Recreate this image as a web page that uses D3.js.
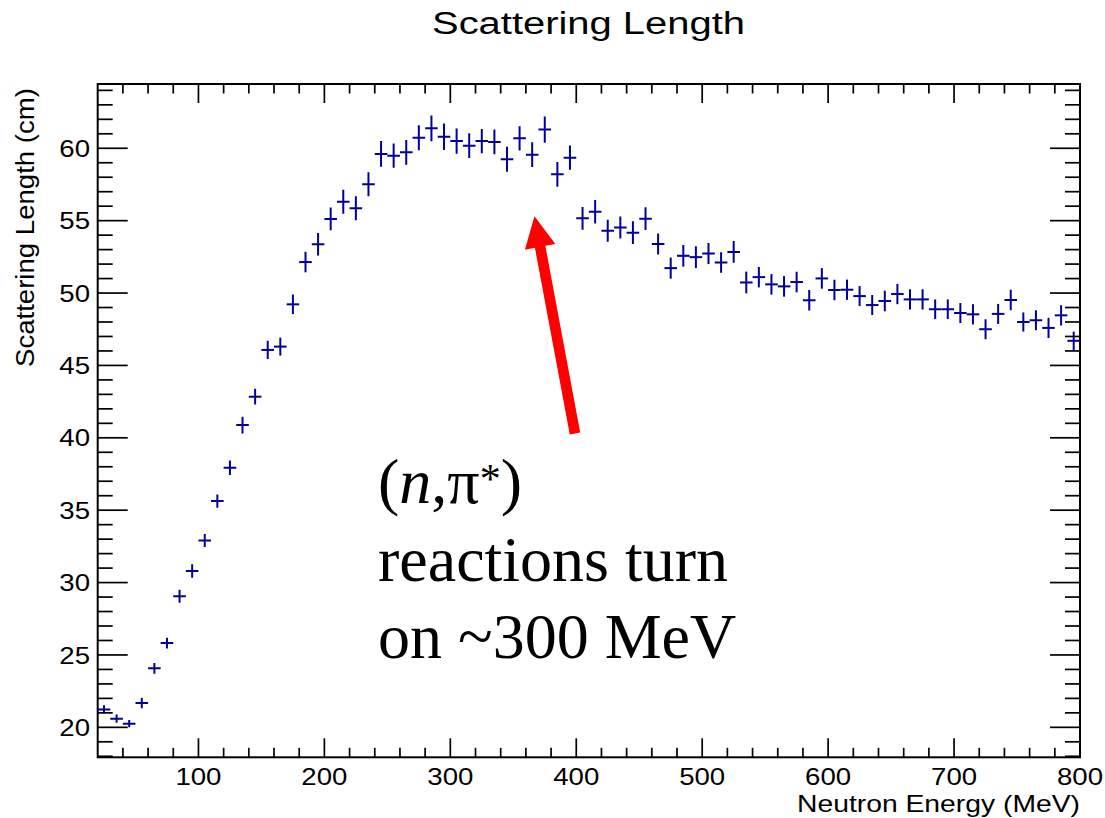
<!doctype html>
<html>
<head>
<meta charset="utf-8">
<style>
  body { margin: 0; background: #fff; }
  text { font-family: "Liberation Sans", Arial, Helvetica, sans-serif; fill: #000; }
  .note { font-family: "Liberation Serif", "Times New Roman", serif; }
</style>
<script src="https://d3js.org/d3.v7.min.js"></script>
</head>
<body>
<svg width="1105" height="818"></svg>
<script>
// bin centres (MeV), scattering length (cm) and its error
var energy = [25, 35, 45, 55, 65, 75, 85, 95, 105, 115, 125, 135, 145, 155, 165, 175,
  185, 195, 205, 215, 225, 235, 245, 255, 265, 275, 285, 295, 305, 315, 325, 335, 345,
  355, 365, 375, 385, 395, 405, 415, 425, 435, 445, 455, 465, 475, 485, 495, 505, 515,
  525, 535, 545, 555, 565, 575, 585, 595, 605, 615, 625, 635, 645, 655, 665, 675, 685,
  695, 705, 715, 725, 735, 745, 755, 765, 775, 785, 795];
var scatLen = [21.24, 20.6, 20.25, 21.68, 24.08, 25.82, 29.05, 30.8, 32.9, 35.63, 37.93,
  40.88, 42.84, 46.07, 46.3, 49.22, 52.14, 53.37, 55.12, 56.31, 55.85, 57.51, 59.61,
  59.49, 59.72, 60.73, 61.38, 60.8, 60.5, 60.18, 60.5, 60.44, 59.24, 60.69, 59.56, 61.29,
  58.2, 59.35, 55.16, 55.62, 54.31, 54.52, 54.17, 55.14, 53.39, 51.72, 52.57, 52.48,
  52.73, 52.11, 52.84, 50.73, 51.10, 50.60, 50.46, 50.76, 49.50, 51.01, 50.21, 50.23,
  49.79, 49.17, 49.45, 49.93, 49.56, 49.56, 48.88, 48.88, 48.62, 48.53, 47.50, 48.56,
  49.52, 48.00, 48.12, 47.59, 48.46, 46.70];
var scatErr = [0.28, 0.28, 0.25, 0.37, 0.37, 0.37, 0.45, 0.46, 0.45, 0.46, 0.5,
  0.58, 0.54, 0.63, 0.62, 0.68, 0.71, 0.78, 0.79, 0.83, 0.83, 0.83, 0.89, 0.84, 0.86,
  0.86, 0.89, 0.92, 0.87, 0.86, 0.84, 0.86, 0.86, 0.84, 0.85, 0.9, 0.85, 0.84,
  0.79, 0.81, 0.76, 0.76, 0.79, 0.78, 0.73, 0.73, 0.75, 0.76, 0.73, 0.71, 0.75, 0.75,
  0.71, 0.71, 0.71, 0.71, 0.71, 0.71, 0.71, 0.70, 0.69, 0.69, 0.71, 0.70, 0.70, 0.70,
  0.68, 0.68, 0.69, 0.70, 0.69, 0.69, 0.71, 0.66, 0.69, 0.70, 0.70, 0.64];
var binHalf = 5;

var xTicks = [100, 200, 300, 400, 500, 600, 700, 800];
var yTicks = [20, 25, 30, 35, 40, 45, 50, 55, 60];
var xRange = [20, 800];
var yRange = [17.93, 64.44];

// annotation arrow, in data units (tail -> tip)
var arrowTail = [399, 40.3];
var arrowTip = [366.8, 55.3];

var svg = d3.select("svg");
svg.append("rect").attr("width", 1105).attr("height", 818).attr("fill", "#fff");

var padL = 97.7, padR = 1080, padT = 84, padB = 757.3;

var x = d3.scaleLinear().domain(xRange).range([padL, padR]);
var y = d3.scaleLinear().domain(yRange).range([padB, padT]);

// ticks (ROOT style, pointing inwards on all four sides)
function tickRange(a, b, step) {
  var out = [];
  for (var v = Math.ceil(a / step) * step; v <= b + 1e-9; v += step) out.push(v);
  return out;
}
var axes = svg.append("g").attr("stroke", "#000").attr("stroke-width", 1.7);
tickRange(xRange[0], xRange[1], 20).forEach(function(v) {
  if (v <= xRange[0] || v >= xRange[1]) return;
  var len = v % 100 === 0 ? 19 : 9.5;
  axes.append("line").attr("x1", x(v)).attr("x2", x(v)).attr("y1", padB).attr("y2", padB - len);
  axes.append("line").attr("x1", x(v)).attr("x2", x(v)).attr("y1", padT).attr("y2", padT + len);
});
tickRange(yRange[0], yRange[1], 1).forEach(function(v) {
  var len = v % 5 === 0 ? 30 : 15;
  axes.append("line").attr("y1", y(v)).attr("y2", y(v)).attr("x1", padL).attr("x2", padL + len);
  axes.append("line").attr("y1", y(v)).attr("y2", y(v)).attr("x1", padR).attr("x2", padR - len);
});

svg.append("rect")
  .attr("x", padL).attr("y", padT)
  .attr("width", padR - padL).attr("height", padB - padT)
  .attr("fill", "none").attr("stroke", "#000").attr("stroke-width", 2);

// tick labels
svg.selectAll(".xlab").data(xTicks).enter().append("text")
  .attr("class", "xlab")
  .attr("transform", function(d) { return "translate(" + x(d) + ",785) scale(1.15,1)"; })
  .attr("text-anchor", "middle").attr("font-size", 24)
  .text(function(d) { return d; });

svg.selectAll(".ylab").data(yTicks).enter().append("text")
  .attr("class", "ylab")
  .attr("transform", function(d) { return "translate(90," + (y(d) + 8.6) + ") scale(1.15,1)"; })
  .attr("text-anchor", "end").attr("font-size", 24)
  .text(function(d) { return d; });

// titles
svg.append("text")
  .attr("x", 432).attr("y", 34)
  .attr("font-size", 31)
  .attr("textLength", 313).attr("lengthAdjust", "spacingAndGlyphs")
  .text("Scattering Length");

svg.append("text")
  .attr("x", 797).attr("y", 812)
  .attr("font-size", 24)
  .attr("textLength", 283).attr("lengthAdjust", "spacingAndGlyphs")
  .text("Neutron Energy (MeV)");

svg.append("text")
  .attr("transform", "translate(34,367) rotate(-90)")
  .attr("font-size", 25.5)
  .attr("textLength", 279).attr("lengthAdjust", "spacingAndGlyphs")
  .text("Scattering Length (cm)");

// data points with error bars
svg.append("clipPath").attr("id", "plot")
  .append("rect").attr("x", padL).attr("y", padT).attr("width", padR - padL).attr("height", padB - padT);

var pts = svg.append("g").attr("clip-path", "url(#plot)")
  .attr("stroke", "#000099").attr("stroke-width", 2);
energy.forEach(function(e, i) {
  var g = pts.append("g");
  g.append("line")
    .attr("x1", x(e - binHalf)).attr("x2", x(e + binHalf))
    .attr("y1", y(scatLen[i])).attr("y2", y(scatLen[i]));
  g.append("line")
    .attr("x1", x(e)).attr("x2", x(e))
    .attr("y1", y(scatLen[i] - scatErr[i])).attr("y2", y(scatLen[i] + scatErr[i]));
});

// red arrow
var tx = x(arrowTail[0]), ty = y(arrowTail[1]);
var hx = x(arrowTip[0]), hy = y(arrowTip[1]);
var dx = hx - tx, dy = hy - ty, L = Math.sqrt(dx * dx + dy * dy);
var ux = dx / L, uy = dy / L, nx = -uy, ny = ux;
var shaftW = 5.3, headW = 15.5, headL = 31;
var bx = hx - ux * headL, by = hy - uy * headL;
var poly = [
  [tx + nx * shaftW, ty + ny * shaftW],
  [bx + nx * shaftW, by + ny * shaftW],
  [bx + nx * headW, by + ny * headW],
  [hx, hy],
  [bx - nx * headW, by - ny * headW],
  [bx - nx * shaftW, by - ny * shaftW],
  [tx - nx * shaftW, ty - ny * shaftW]
];
svg.append("polygon")
  .attr("points", poly.map(function(p) { return p.join(","); }).join(" "))
  .attr("fill", "#ff0000");

// annotation text
var note = svg.append("text").attr("class", "note").attr("font-size", 64).attr("x", 378);
var l1 = note.append("tspan").attr("x", 378).attr("y", 503);
l1.append("tspan").text("(");
l1.append("tspan").attr("font-style", "italic").text("n");
l1.append("tspan").text(",π");
l1.append("tspan").attr("font-size", 42).attr("dy", -10).text("*");
l1.append("tspan").attr("dy", 10).text(")");
note.append("tspan").attr("x", 378).attr("y", 581).text("reactions turn");
note.append("tspan").attr("x", 378).attr("y", 658).text("on ~300 MeV");
</script>
</body>
</html>
